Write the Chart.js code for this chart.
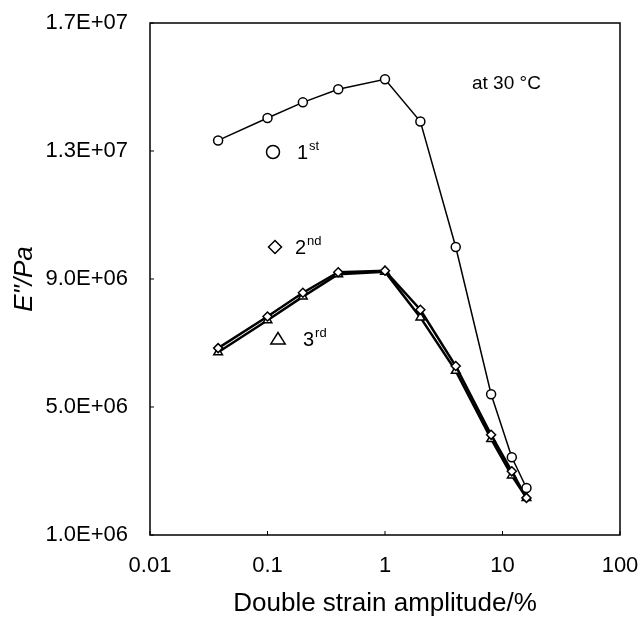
<!DOCTYPE html>
<html>
<head>
<meta charset="utf-8">
<script src="https://cdn.jsdelivr.net/npm/chart.js@4/dist/chart.umd.min.js"></script>
<style>
  html, body { margin: 0; padding: 0; background: #fff; }
  canvas { display: block; }
</style>
</head>
<body>
<canvas id="chart" width="642" height="619"></canvas>
<script>
// double strain amplitude (%)
const strain = [0.038, 0.1, 0.2, 0.4, 1, 2, 4, 8, 12, 16];
// E'' (Pa) for the three runs
const first  = [1.333e7, 1.403e7, 1.452e7, 1.493e7, 1.524e7, 1.392e7, 1.000e7, 5.40e6, 3.43e6, 2.47e6];
const second = [6.84e6, 7.83e6, 8.57e6, 9.21e6, 9.26e6, 8.04e6, 6.28e6, 4.13e6, 2.99e6, 2.16e6];
const third  = [6.71e6, 7.71e6, 8.45e6, 9.15e6, 9.23e6, 7.80e6, 6.13e6, 4.00e6, 2.86e6, 2.16e6];

const xTicks = [0.01, 0.1, 1, 10, 100];
const yTicks = [1e6, 5e6, 9e6, 1.3e7, 1.7e7];

const FONT = "'Liberation Sans', Arial, sans-serif";

function sci(v) {
    const e = Math.floor(Math.log10(v) + 1e-9);
    const m = v / Math.pow(10, e);
    return m.toFixed(1) + 'E+' + String(e).padStart(2, '0');
}

function points(ys) {
    return strain.map((x, i) => ({ x: x, y: ys[i] }));
}

// no extra room for overflowing tick labels, layout padding decides
function noOverflow(s) {
    s.paddingTop = 0;
    s.paddingBottom = 0;
    s.paddingLeft = 0;
    s.paddingRight = 0;
}

// legend entries and the temperature note, drawn inside the plot box
const notes = [
    { shape: 'circle',   dx: 123, dy: 129, num: '1', sup: 'st', tx: 147 },
    { shape: 'diamond',  dx: 125, dy: 224, num: '2', sup: 'nd', tx: 145 },
    { shape: 'triangle', dx: 128, dy: 316, num: '3', sup: 'rd', tx: 153 },
];

function marker(ctx, shape, x, y, r) {
    ctx.beginPath();
    if (shape === 'circle') {
        ctx.arc(x, y, r, 0, Math.PI * 2);
    } else if (shape === 'diamond') {
        ctx.moveTo(x, y - r);
        ctx.lineTo(x + r, y);
        ctx.lineTo(x, y + r);
        ctx.lineTo(x - r, y);
        ctx.closePath();
    } else {
        ctx.moveTo(x, y - r);
        ctx.lineTo(x + r * 1.1, y + r * 0.75);
        ctx.lineTo(x - r * 1.1, y + r * 0.75);
        ctx.closePath();
    }
    ctx.stroke();
}

const frame = {
    id: 'frame',
    afterDraw(chart) {
        const ctx = chart.ctx;
        const a = chart.chartArea;
        const xs = chart.scales.x, ys = chart.scales.y;
        ctx.save();
        ctx.strokeStyle = '#000';
        ctx.lineWidth = 1.5;
        ctx.strokeRect(a.left, a.top, a.right - a.left, a.bottom - a.top);

        // small inward tick marks
        ctx.lineWidth = 1;
        ctx.beginPath();
        xTicks.forEach(v => {
            const px = xs.getPixelForValue(v);
            ctx.moveTo(px, a.bottom);
            ctx.lineTo(px, a.bottom - 4);
        });
        yTicks.forEach(v => {
            const py = ys.getPixelForValue(v);
            ctx.moveTo(a.left, py);
            ctx.lineTo(a.left + 4, py);
        });
        ctx.stroke();

        ctx.fillStyle = '#000';
        ctx.textBaseline = 'alphabetic';
        notes.forEach(n => {
            ctx.lineWidth = 1.5;
            marker(ctx, n.shape, a.left + n.dx, a.top + n.dy, 6.5);
            ctx.font = '20px ' + FONT;
            ctx.textAlign = 'left';
            const bx = a.left + n.tx;
            const by = a.top + n.dy + 7;
            ctx.fillText(n.num, bx, by);
            const w = ctx.measureText(n.num).width;
            ctx.font = '13px ' + FONT;
            ctx.fillText(n.sup, bx + w + 1, by - 9);
        });

        ctx.font = '19px ' + FONT;
        ctx.fillText('at 30 °C', a.left + 322, a.top + 66);
        ctx.restore();
    }
};

new Chart(document.getElementById('chart'), {
    type: 'line',
    data: {
        datasets: [
            {
                label: '1st',
                data: points(first),
                borderColor: '#000',
                borderWidth: 1.5,
                pointStyle: 'circle',
                pointRadius: 4.5,
                pointBorderWidth: 1.5,
                pointBackgroundColor: '#fff',
                pointBorderColor: '#000',
            },
            {
                label: '2nd',
                data: points(second),
                borderColor: '#000',
                borderWidth: 2.5,
                pointStyle: 'rectRot',
                pointRadius: 4.5,
                pointBorderWidth: 1.5,
                pointBackgroundColor: '#fff',
                pointBorderColor: '#000',
            },
            {
                label: '3rd',
                data: points(third),
                borderColor: '#000',
                borderWidth: 2.5,
                pointStyle: 'triangle',
                pointRadius: 5,
                pointBorderWidth: 1.5,
                pointBackgroundColor: '#fff',
                pointBorderColor: '#000',
            },
        ]
    },
    options: {
        responsive: false,
        animation: false,
        layout: { padding: { top: 23, right: 22, left: 0, bottom: 0 } },
        plugins: {
            legend: { display: false },
            tooltip: { enabled: false },
        },
        scales: {
            x: {
                type: 'logarithmic',
                min: 0.01,
                max: 100,
                afterBuildTicks: s => { s.ticks = xTicks.map(v => ({ value: v })); },
                afterFit: s => { s.height = 84; noOverflow(s); },
                grid: { display: false, drawTicks: false },
                border: { display: false },
                ticks: {
                    color: '#000',
                    padding: 18,
                    maxRotation: 0,
                    font: { family: FONT, size: 22 },
                    callback: v => String(v),
                },
                title: {
                    display: true,
                    text: 'Double strain amplitude/%',
                    color: '#000',
                    padding: { top: 0, bottom: 0 },
                    font: { family: FONT, size: 26 },
                },
            },
            y: {
                type: 'linear',
                min: 1e6,
                max: 1.7e7,
                afterBuildTicks: s => { s.ticks = yTicks.map(v => ({ value: v })); },
                afterFit: s => { s.width = 150; noOverflow(s); },
                grid: { display: false, drawTicks: false },
                border: { display: false },
                ticks: {
                    color: '#000',
                    padding: 22,
                    font: { family: FONT, size: 22 },
                    callback: v => sci(v),
                },
                title: {
                    display: true,
                    text: 'E"/Pa',
                    color: '#000',
                    padding: { top: 9, bottom: 0 },
                    font: { family: FONT, size: 26, style: 'italic' },
                },
            },
        },
    },
    plugins: [frame],
});
</script>
</body>
</html>
